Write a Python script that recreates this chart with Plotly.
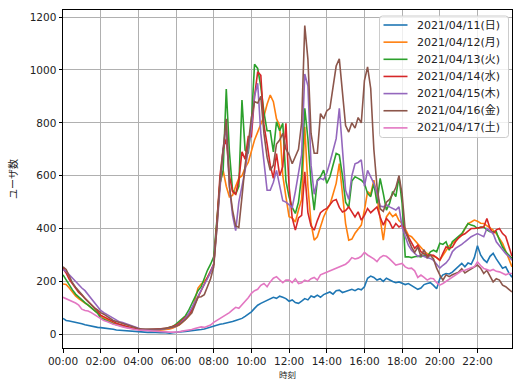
import pandas as pd
import plotly.graph_objects as go

# 10-minute sampling over one day
times = pd.date_range("2021-04-11 00:00", "2021-04-11 23:50", freq="10min")

labels = ["2021/04/11(日)", "2021/04/12(月)", "2021/04/13(火)", "2021/04/14(水)",
          "2021/04/15(木)", "2021/04/16(金)", "2021/04/17(土)"]
colors = ["#1f77b4", "#ff7f0e", "#2ca02c", "#d62728", "#9467bd", "#8c564b", "#e377c2"]

users_0411 = [
    60, 52, 50, 48, 45, 42,
    40, 36, 33, 30, 28, 26,
    25, 24, 22, 20, 19, 16,
    15, 14, 13, 12, 11, 10,
    9, 8, 8, 7, 8, 7,
    7, 6, 7, 5, 4, 6,
    8, 9, 10, 11, 12, 14,
    15, 17, 18, 20, 24, 26,
    30, 35, 38, 40, 42, 45,
    48, 52, 56, 60, 68, 75,
    85, 98, 110, 117, 122, 128,
    132, 140, 136, 144, 140, 135,
    125, 130, 120, 117, 125, 135,
    130, 145, 140, 148, 140, 150,
    155, 160, 152, 165, 167, 158,
    162, 167, 170, 165, 172, 168,
    180, 212, 220, 215, 205, 210,
    200, 212, 205, 200, 195, 198,
    193, 188, 192, 185, 175, 170,
    175, 188, 192, 195, 185, 172,
    210, 225, 230, 228, 235, 245,
    258, 268, 255, 270, 265, 290,
    335, 300, 282, 272, 295, 306,
    285, 265, 250, 255, 232, 216,
]

users_0412 = [
    190, 188, 175, 160, 145, 135,
    125, 118, 110, 100, 90, 80,
    68, 60, 55, 48, 42, 38,
    34, 30, 28, 25, 22, 20,
    18, 16, 15, 15, 14, 14,
    14, 15, 16, 18, 20, 24,
    28, 35, 45, 55, 68, 85,
    130, 175, 190, 200, 215, 235,
    265, 406, 571, 620, 560, 520,
    525, 560, 590, 600, 630, 650,
    690, 735, 765, 795, 825, 870,
    905, 880, 815, 790, 600, 520,
    445, 440, 425, 470, 510, 785,
    560, 420, 356, 369, 407, 444,
    470, 490, 530, 571, 646, 540,
    419, 356, 360, 382, 400, 413,
    470, 540, 530, 583, 521, 444,
    356, 444, 461, 445, 455, 430,
    420, 400, 375, 369, 355, 340,
    325, 315, 305, 299, 295, 290,
    280, 300, 320, 335, 344, 355,
    365, 375, 400, 419, 425, 432,
    428, 420, 419, 410, 400, 394,
    380, 360, 344, 315, 287, 255,
]

users_0413 = [
    225, 205, 185, 168, 152, 140,
    130, 120, 110, 100, 90, 80,
    62, 56, 50, 45, 40, 36,
    32, 30, 27, 25, 22, 20,
    18, 17, 16, 15, 16, 15,
    16, 18, 20, 23, 26, 30,
    38, 48, 58, 70, 90, 115,
    141, 165, 180, 215, 242, 265,
    293, 430, 570, 621, 928, 690,
    545, 530, 560, 886, 697, 684,
    800, 1022, 1006, 937, 840, 770,
    770, 690, 804, 770, 798, 580,
    520, 480, 457, 500, 600, 855,
    740, 571, 470, 583, 596, 621,
    571, 596, 640, 684, 678, 600,
    500, 480, 580, 596, 590, 583,
    571, 533, 521, 571, 495, 590,
    533, 470, 495, 540, 521, 596,
    495, 293, 293, 290, 293, 295,
    293, 300, 293, 312, 318, 312,
    344, 340, 350, 318, 350, 360,
    369, 381, 400, 419, 413, 410,
    400, 406, 406, 395, 388, 388,
    388, 356, 330, 312, 299, 287,
]

users_0414 = [
    250, 232, 208, 190, 172, 158,
    148, 136, 125, 112, 100, 88,
    72, 66, 58, 52, 46, 42,
    38, 34, 30, 27, 24, 22,
    20, 18, 17, 17, 18, 18,
    18, 19, 21, 23, 26, 30,
    34, 42, 52, 62, 75, 90,
    117, 140, 165, 190, 215, 240,
    265, 420, 600, 700, 740, 600,
    540, 530, 583, 690, 662, 748,
    748, 900, 993, 980, 790, 720,
    640, 590, 684, 600, 634, 798,
    560, 440, 394, 440, 450, 615,
    460, 410, 394, 430, 460, 470,
    476, 490, 505, 510, 480, 463,
    468, 482, 465, 444, 463, 432,
    450, 476, 460, 470, 482, 444,
    413, 438, 425, 400, 419, 406,
    413, 390, 369, 345, 325, 337,
    312, 305, 299, 300, 299, 290,
    280, 306, 331, 325, 330, 350,
    365, 375, 380, 390, 400, 400,
    402, 406, 406, 438, 400, 381,
    395, 400, 381, 370, 335, 295,
]

users_0415 = [
    245, 238, 225, 212, 198, 186,
    175, 165, 150, 135, 120, 105,
    90, 82, 75, 66, 58, 52,
    47, 44, 40, 36, 32, 28,
    22, 19, 18, 17, 18, 17,
    17, 18, 20, 22, 24, 26,
    30, 38, 48, 60, 78, 100,
    120, 140, 165, 185, 210, 235,
    265, 400, 560, 700, 790, 560,
    450, 392, 500, 560, 620, 700,
    780, 900, 950, 760, 640, 545,
    545, 575, 620, 560, 505, 500,
    490, 480, 540, 610, 680, 985,
    940, 640, 530, 580, 590, 585,
    610, 650, 700, 740, 855, 700,
    545, 510, 600, 645, 650, 660,
    560, 620, 596, 571, 533, 485,
    482, 490, 482, 475, 470, 482,
    406, 370, 337, 318, 305, 295,
    299, 293, 290, 287, 280, 265,
    250, 261, 270, 285, 312, 325,
    331, 340, 350, 360, 369, 375,
    381, 375, 369, 400, 390, 381,
    350, 335, 318, 305, 295, 280,
]

users_0416 = [
    255, 245, 220, 195, 178, 162,
    150, 135, 122, 110, 100, 92,
    82, 76, 68, 60, 52, 48,
    44, 40, 36, 34, 30, 26,
    22, 20, 20, 18, 20, 19,
    18, 20, 22, 23, 25, 28,
    30, 36, 45, 55, 68, 80,
    110, 140, 142, 150, 180, 210,
    255, 400, 580, 700, 815, 560,
    470, 410, 405, 520, 640, 720,
    820, 880, 875, 900, 760, 670,
    620, 640, 720, 735, 760, 700,
    680, 645, 670, 700, 800, 1168,
    1040, 760, 685, 685, 835, 815,
    845, 855, 935, 1015, 1042, 900,
    790, 765, 800, 780, 820, 800,
    960, 1012, 930, 700, 560, 475,
    465, 500, 510, 530, 555, 600,
    530, 390, 360, 330, 310, 330,
    295, 320, 290, 300, 285, 250,
    225, 205, 225, 218, 225, 230,
    235, 248, 232, 240, 248, 255,
    262, 250, 230, 242, 220, 198,
    210, 205, 186, 180, 170, 160,
]

users_0417 = [
    140, 135, 130, 125, 118, 110,
    95, 90, 88, 82, 75, 68,
    58, 52, 48, 42, 38, 35,
    30, 28, 25, 22, 20, 18,
    16, 15, 14, 13, 12, 12,
    11, 10, 10, 9, 8, 8,
    8, 9, 12, 14, 15, 18,
    22, 25, 28, 26, 30, 35,
    45, 52, 58, 65, 75, 82,
    92, 102, 98, 112, 122, 138,
    155, 165, 170, 185, 192, 180,
    198, 212, 218, 205, 195, 205,
    205, 195, 210, 192, 195, 205,
    200, 210, 215, 205, 225, 230,
    235, 240, 245, 250, 258, 262,
    265, 275, 290, 285, 288, 295,
    310, 300, 293, 285, 275, 290,
    298, 295, 285, 275, 262, 265,
    268, 255, 249, 250, 240, 215,
    224, 215, 205, 212, 210, 195,
    186, 192, 200, 205, 215, 224,
    230, 240, 242, 248, 252, 255,
    274, 260, 249, 245, 240, 245,
    238, 236, 232, 225, 230, 230,
]

series = [users_0411, users_0412, users_0413, users_0414,
          users_0415, users_0416, users_0417]

y_ticks = [0, 200, 400, 600, 800, 1000, 1200]

# figure / plot-area geometry in pixels
W, H = 513, 380
M_L, M_R, M_T, M_B = 63, 1, 10, 32
PW, PH = W - M_L - M_R, H - M_T - M_B


def px(x):
    """pixel column -> paper x"""
    return (x - M_L) / PW


def py(y):
    """pixel row -> paper y"""
    return (H - M_B - y) / PH


fig = go.Figure()
for name, color, vals in zip(labels, colors, series):
    fig.add_trace(go.Scatter(x=times, y=vals, mode="lines", name=name,
                             line=dict(color=color, width=1.6), showlegend=False))

# Latin glyphs from DejaVu Sans, kana/kanji fall back to Noto Sans CJK JP
font_family = "DejaVu Sans, Noto Sans CJK JP"
cjk_family = "Noto Sans CJK JP"
text_color = "#222222"
axis_common = dict(
    showgrid=True, gridcolor="#b0b0b0", gridwidth=0.8,
    showline=True, linecolor="black", linewidth=1, mirror=True,
    ticks="outside", ticklen=3.5, tickcolor="black", tickwidth=0.8,
    zeroline=False, tickfont=dict(size=10.5, color=text_color, family=font_family),
)

# legend box (rounded rectangle) in the upper right of the axes
box_l, box_r, box_t, box_b, rad = 379.5, 508.5, 16.0, 137.5, 3.0
rx, ry = rad / PW, rad / PH
L, R, T, B = px(box_l), px(box_r), py(box_t), py(box_b)
path = (f"M {L + rx} {T} L {R - rx} {T} Q {R} {T} {R} {T - ry} "
        f"L {R} {B + ry} Q {R} {B} {R - rx} {B} "
        f"L {L + rx} {B} Q {L} {B} {L} {B + ry} "
        f"L {L} {T - ry} Q {L} {T} {L + rx} {T} Z")
shapes = [dict(type="path", path=path, xref="paper", yref="paper",
               fillcolor="rgba(255,255,255,0.8)", line=dict(color="#cccccc", width=1),
               layer="above")]
annotations = []
row0, row_step = 25.0, 17.15
for k, (name, color) in enumerate(zip(labels, colors)):
    yc = row0 + k * row_step
    shapes.append(dict(type="line", xref="paper", yref="paper",
                       x0=px(383.5), x1=px(407.5), y0=py(yc), y1=py(yc),
                       line=dict(color=color, width=1.6), layer="above"))
    annotations.append(dict(text=name, xref="paper", yref="paper",
                            x=px(415.0), y=py(yc), xanchor="left", yanchor="middle",
                            showarrow=False,
                            font=dict(size=11, family=font_family, color=text_color)))

# x-axis label, centred under the plot area
annotations.append(dict(text="時刻", xref="paper", yref="paper",
                        x=0.5, y=py(373.8), xanchor="center", yanchor="middle",
                        showarrow=False, borderpad=0,
                        font=dict(size=8.5, family=cjk_family, color=text_color)))

fig.update_layout(
    width=W, height=H,
    margin=dict(l=M_L, r=M_R, t=M_T, b=M_B),
    paper_bgcolor="white", plot_bgcolor="white",
    font=dict(family=font_family, color=text_color),
    showlegend=False,
    shapes=shapes,
    annotations=annotations,
    xaxis=dict(
        type="date",
        range=[times[0], times[-1]],
        tickformat="%H:%M", dtick=2 * 3600 * 1000, tick0=times[0],
        ticklabelstandoff=0,
        automargin=False,
        **axis_common,
    ),
    yaxis=dict(
        range=[-52, 1227],
        tickvals=y_ticks,
        title=dict(text="ユーザ数", font=dict(size=10, family=cjk_family), standoff=10),
        automargin=False,
        **axis_common,
    ),
)

fig.write_html("out.html")
